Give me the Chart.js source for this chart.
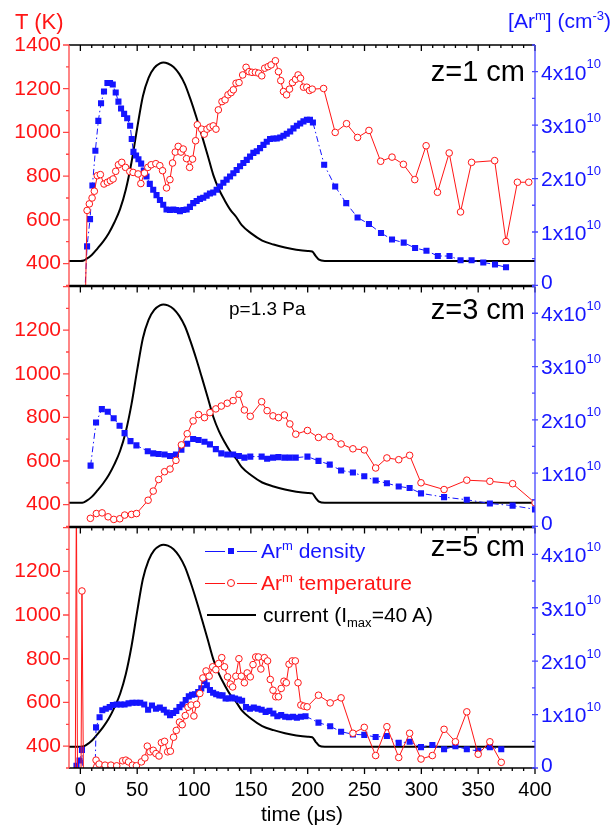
<!DOCTYPE html>
<html>
<head>
<meta charset="utf-8">
<script src="https://cdn.jsdelivr.net/npm/chart.js@4.4.1/dist/chart.umd.min.js"></script>
<style>
  body { margin: 0; background: #fff; width: 613px; height: 834px; position: relative; overflow: hidden;
         font-family: "Liberation Sans", Arial, sans-serif; }
  canvas { position: absolute; left: 0; }
  .txt { position: absolute; line-height: 1; white-space: nowrap; }
  .txt sup, .txt sub { position: relative; font-size: 0.62em; line-height: 0; vertical-align: baseline; }
  .txt sup { top: -0.62em; }
  .txt sub { top: 0.35em; }
  .seg { position: absolute; height: 0; }
</style>
</head>
<body>
<canvas id="p1" width="613" height="306" style="top:0px"></canvas>
<canvas id="p2" width="613" height="281" style="top:266px"></canvas>
<canvas id="p3" width="613" height="327" style="top:507px"></canvas>

<div class="txt" style="left:15px;top:11px;font-size:22px;color:#ff1515">T (K)</div>
<div class="txt" style="right:2px;top:10px;font-size:21px;color:#1515ff">[Ar<sup>m</sup>] (cm<sup>-3</sup>)</div>
<div class="txt" style="right:88px;top:57px;font-size:29px;color:#000">z=1 cm</div>
<div class="txt" style="right:88px;top:295px;font-size:29px;color:#000">z=3 cm</div>
<div class="txt" style="right:88px;top:532px;font-size:29px;color:#000">z=5 cm</div>
<div class="txt" style="left:229px;top:299px;font-size:19px;color:#000">p=1.3 Pa</div>

<!-- legend -->
<div class="seg" style="left:205px;top:551px;width:20px;border-top:1px solid #1515ff"></div>
<div class="seg" style="left:237px;top:551px;width:20px;border-top:1px solid #1515ff"></div>
<div style="position:absolute;left:228px;top:548px;width:6px;height:6px;background:#1515ff"></div>
<div class="txt" style="left:261px;top:540px;font-size:21px;color:#1515ff">Ar<sup>m</sup> density</div>
<div class="seg" style="left:205px;top:583px;width:20px;border-top:1px solid #ff1515"></div>
<div class="seg" style="left:237px;top:583px;width:20px;border-top:1px solid #ff1515"></div>
<div style="position:absolute;left:227px;top:579px;width:6px;height:6px;border:1px solid #ff1515;border-radius:50%;background:#fff"></div>
<div class="txt" style="left:261px;top:572px;font-size:21px;color:#ff1515">Ar<sup>m</sup> temperature</div>
<div class="seg" style="left:207px;top:614px;width:49px;border-top:2px solid #000"></div>
<div class="txt" style="left:263px;top:604px;font-size:21px;color:#000">current (I<sub>max</sub>=40 A)</div>

<script>
// ---- data (time in µs, temperature in K, density in 1e10 cm^-3, current in A) ----
const timeTicks = [0, 50, 100, 150, 200, 250, 300, 350, 400];
const tempTicksTop = [400, 600, 800, 1000, 1200, 1400];
const tempTicks = [400, 600, 800, 1000, 1200];
const densTicks = [0, 1, 2, 3, 4];

const curTime = [-10, 0, 3, 5, 10, 15, 20, 25, 30, 35, 40, 45, 50, 55, 60, 65, 70, 73, 77, 82, 87, 92, 97,
  102, 107, 112, 117, 122, 127, 132, 137, 142, 150, 160, 170, 180, 190, 200, 204, 207, 210, 215, 400];
const current = [0, 0, 0.1, 0.35, 1.2, 2.5, 3.9, 5.6, 7.8, 10.5, 14.4, 19.9, 26.8, 33.2, 36.9, 38.9, 39.8, 40.0, 39.8, 39.1, 37.7, 35.6, 32.5,
  29.0, 25.2, 21.3, 17.3, 14.4, 12.2, 10.3, 8.9, 7.2, 5.6, 4.1, 3.3, 2.7, 2.25, 2.0, 1.9, 1.0, 0.25, 0, 0];

const densZ1 = [[3.8,-0.2],[5.9,0.73],[8.5,1.24],[10.6,1.87],[13.2,2.52],[15.8,3.08],[18.2,3.41],[20.8,3.63],
  [23.8,3.79],[26.1,3.79],[28.5,3.76],[31.1,3.61],[33.5,3.44],[35.8,3.31],[38.5,3.21],[41.2,3.13],[43.8,2.99],
  [45.2,2.74],[46.7,2.5],[49,2.43],[51.1,2.36],[53.5,2.28],[55.8,2.15],[58.2,2.04],[61.1,1.9],[64.1,1.79],[67,1.69],
  [70,1.6],[72.9,1.51],[75.8,1.42],[78.8,1.41],[81.7,1.42],[84.6,1.41],[87.6,1.39],[90.5,1.41],[93.5,1.42],
  [96.4,1.47],[99.3,1.54],[102.3,1.58],[105.2,1.62],[108.1,1.64],[111.1,1.68],[114,1.72],[116.9,1.74],[119.9,1.79],
  [122.8,1.85],[125.8,1.92],[128.7,1.98],[131.7,2.04],[134.6,2.1],[137.5,2.16],[140.5,2.23],[143.4,2.29],
  [146.4,2.35],[149.3,2.41],[152.2,2.48],[155.2,2.51],[158.1,2.57],[161.1,2.63],[164,2.69],[166.9,2.74],
  [169.9,2.75],[172.8,2.75],[175.8,2.77],[178.7,2.8],[181.6,2.84],[184.6,2.88],[187.5,2.94],[190.5,2.99],
  [193.4,3.03],[196.3,3.07],[199.3,3.1],[202,3.1],[204.6,3.05],[214.5,2.26],[224.2,1.85],[233.9,1.54],
  [243.9,1.27],[253.9,1.15],[264.5,0.98],[274.2,0.86],[284.5,0.8],[294.5,0.7],[304.5,0.65],[314.5,0.55],
  [324.8,0.55],[334.5,0.47],[344.2,0.47],[354.5,0.43],[364.8,0.39],[374.5,0.34]];
const tempZ1 = [[4.5,250],[5.9,643],[7.9,673],[10.3,700],[12.3,731],[14.9,802],[17.6,807],[20.8,764],[23.8,772],
  [26.4,779],[28.8,787],[31.1,822],[33.5,852],[36.4,863],[39.7,840],[43.5,821],[46.4,817],[50.8,810],[53.2,766],
  [56.4,814],[59.4,840],[62.3,852],[66.4,857],[69.9,848],[72.3,825],[75.8,746],[78.8,784],[81.1,860],[83.5,910],
  [86.1,936],[88.5,910],[90.5,924],[93.4,880],[96.1,840],[98.7,878],[101.4,962],[102.9,1035],[106.7,1015],
  [109,992],[111.4,1015],[114,1024],[116.9,1030],[119.3,1015],[121.4,1103],[124.6,1141],[127.3,1149],
  [129.9,1172],[132.6,1182],[134.6,1195],[137,1225],[139.6,1228],[142.8,1263],[145.8,1298],[148.4,1278],
  [151,1275],[154,1275],[156.9,1271],[159.6,1259],[162.2,1294],[165.2,1301],[167.8,1309],[171.6,1328],
  [174.3,1278],[176.3,1237],[178.7,1187],[181.4,1172],[184,1198],[186.6,1228],[189.3,1243],[191.6,1263],
  [193.7,1248],[196.3,1207],[199.2,1207],[201.6,1192],[204,1198],[214,1201],[224.2,1000],[234.2,1040],
  [243.9,977],[253.9,1009],[264.2,868],[274.2,887],[284.2,854],[294.2,784],[304.2,939],[314.2,726],
  [324.5,906],[334.5,636],[344.2,863],[364.5,871],[374.5,501],[384.5,772],[394.5,772]];

const densZ3 = [[9,1.14],[13.8,1.95],[18.9,2.2],[24.1,2.15],[29.3,2.03],[34.5,1.89],[38.9,1.75],[44.1,1.6],
  [49.3,1.52],[59.3,1.41],[64.1,1.37],[68.9,1.36],[74.1,1.35],[78.9,1.32],[84.1,1.35],[88.9,1.44],[94,1.55],
  [99.2,1.64],[104,1.62],[109.2,1.59],[114,1.54],[119.2,1.45],[124,1.37],[129.2,1.35],[134.4,1.35],[139.5,1.32],
  [144.3,1.29],[149.5,1.31],[159.5,1.31],[164.3,1.27],[169.5,1.29],[174.3,1.3],[179.5,1.29],[184.3,1.29],
  [189.5,1.29],[199.8,1.31],[209.5,1.23],[219.4,1.16],[229.4,1.05],[239.8,1.01],[249.8,0.94],[259.8,0.86],
  [269.7,0.81],[280.1,0.75],[289.7,0.72],[299.7,0.62],[320,0.55],[340,0.5],[360.3,0.43],[380.3,0.39],[400,0.32]];
const tempZ3 = [[8.8,337],[14.1,359],[19.1,362],[24.4,344],[29.4,332],[34.7,335],[39,352],[45,355],[49.4,359],
  [59.6,420],[64.1,462],[68.9,515],[74.1,551],[78.9,563],[84.1,603],[88.9,674],[94,725],[99.2,784],[104,813],
  [109.2,799],[114,822],[119.2,839],[124,852],[129.2,865],[134.4,877],[139.5,906],[144.3,834],[149.5,805],
  [159.5,872],[164.3,831],[169.5,807],[174.3,799],[179.5,811],[184.3,770],[189.5,723],[199.8,740],[209.5,708],
  [219.4,712],[229.4,678],[239.8,656],[249.8,651],[259.8,568],[269.7,614],[280.1,606],[289.7,626],[299.7,500],
  [320,469],[340,512],[360.3,507],[380.3,496],[400,408]];

const densZ5 = [[-3.4,0.04],[-0.7,0.14],[1.4,0.34],[2.5,-0.5],[12.5,-0.5],[13.8,0.76],[16.9,0.95],[19.3,1.08],
  [22.4,1.11],[25.8,1.14],[28.6,1.18],[32,1.19],[35.5,1.19],[38.9,1.19],[42.4,1.21],[45.8,1.22],[49.3,1.22],
  [52.7,1.22],[56.2,1.19],[59.6,1.09],[63,1.17],[66.5,1.11],[69.9,1.13],[73.4,1.09],[76.1,1.04],[78.9,0.99],
  [81.6,1.03],[84.4,1.07],[87.2,1.14],[89.9,1.19],[92.7,1.27],[95.4,1.34],[98.2,1.37],[100.9,1.38],[103.7,1.42],
  [106.4,1.49],[109.2,1.63],[111.3,1.55],[114,1.46],[116.8,1.41],[119.5,1.38],[122.3,1.36],[125.1,1.36],
  [127.8,1.3],[130.6,1.3],[133.3,1.32],[136.1,1.3],[139.5,1.28],[142.3,1.26],[145.7,1.14],[149.2,1.11],
  [152.6,1.13],[156.1,1.11],[159.5,1.09],[163,1.05],[166.4,1.07],[169.8,1.02],[173.3,0.97],[176.7,0.99],
  [180.2,0.96],[183.6,0.95],[187.1,0.96],[190.5,0.94],[194,0.96],[198.1,0.97],[209.5,0.85],[219.8,0.78],
  [229.4,0.68],[239.8,0.63],[249.8,0.62],[259.8,0.58],[269.7,0.6],[280.1,0.47],[289.7,0.49],[299.7,0.39],
  [309.7,0.43],[320,0.35],[330,0.41],[340,0.35],[350,0.32],[360.3,0.39],[370.3,0.35]];
const tempZ5 = [[-4.5,200],[-3.5,1600],[-2.5,200],[0.5,200],[1.4,1110],[2.8,200],[13.8,336],[16.5,318],
  [21.7,313],[26.9,313],[32,310],[37.2,333],[40,336],[42.4,328],[45.8,313],[49.3,310],[53.7,328],[56.8,346],
  [58.9,400],[61.3,374],[64.1,381],[66.5,366],[69.2,355],[71.3,416],[74.1,422],[76.8,374],[79.2,377],[82,441],
  [84.4,472],[87.2,510],[89.6,498],[92.3,540],[94.7,578],[97.5,588],[99.9,538],[102.3,591],[105.1,641],
  [107.8,712],[110.6,744],[113.3,720],[116.4,763],[119.2,750],[121.6,778],[124.4,805],[126.8,763],[129.5,717],
  [131.9,684],[134,671],[136.8,720],[139.5,800],[141.6,720],[144.3,690],[146.8,735],[149.5,717],[151.9,773],
  [154.3,808],[156.7,808],[158.8,753],[161.9,805],[164.7,790],[167.1,705],[169.5,656],[171.9,626],[174.3,626],
  [176.7,664],[179.1,697],[181.2,690],[183.6,775],[186.4,790],[189.1,790],[191.5,690],[194,588],[196.7,583],
  [199.5,580],[209.5,633],[219.8,598],[229.4,621],[239.8,459],[249.8,486],[259.8,357],[269.7,489],[280.1,348],
  [289.7,459],[299.7,341],[309.7,357],[320,477],[330,420],[340,557],[350,363],[360.3,420],[370.3,326]];

// ---- drawing ----
const RED = '#ff1515', BLUE = '#1515ff';
const FONT = '"Liberation Sans", Arial, sans-serif';
Chart.defaults.font.family = FONT;

const toXY = pairs => pairs.map(([x, y]) => ({ x, y }));

// frame, inner/outer tick marks and the right-hand labels with superscripts
const frame = {
  id: 'frame',
  afterDatasetsDraw(chart, args, opts) {
    const { ctx, chartArea: a, scales } = chart;
    const x = scales.x, yT = scales.yT, yD = scales.yD;
    ctx.save();
    ctx.lineWidth = 1.3;

    ctx.strokeStyle = '#000';
    ctx.beginPath();
    for (let t = 0; t <= 400; t += 10) {
      const px = x.getPixelForValue(t);
      const len = t % 50 === 0 ? 6 : 3;
      ctx.moveTo(px, a.top); ctx.lineTo(px, a.top + len);
      if (opts.bottomTicks) { ctx.moveTo(px, a.bottom); ctx.lineTo(px, a.bottom + len); }
    }
    ctx.moveTo(a.left, a.top); ctx.lineTo(a.right, a.top);
    ctx.moveTo(a.left, a.bottom); ctx.lineTo(a.right, a.bottom);
    ctx.stroke();

    ctx.strokeStyle = '#ff4545';
    ctx.beginPath();
    for (let v = 300; v <= 1400; v += 100) {
      const py = yT.getPixelForValue(v);
      ctx.moveTo(a.left, py); ctx.lineTo(a.left - (v % 200 === 0 ? 6 : 3), py);
    }
    ctx.moveTo(a.left, a.top); ctx.lineTo(a.left, a.bottom);
    ctx.stroke();

    ctx.strokeStyle = '#4545ff';
    ctx.beginPath();
    for (let v = 0; v <= 4.5; v += 0.5) {
      const py = yD.getPixelForValue(v);
      if (Number.isInteger(v)) { ctx.moveTo(a.right - 3, py); ctx.lineTo(a.right + 3, py); }
      else { ctx.moveTo(a.right - 3, py); ctx.lineTo(a.right, py); }
    }
    ctx.moveTo(a.right, a.top); ctx.lineTo(a.right, a.bottom);
    ctx.stroke();

    ctx.fillStyle = BLUE;
    ctx.textAlign = 'left';
    ctx.textBaseline = 'middle';
    for (const v of densTicks) {
      const py = yD.getPixelForValue(v);
      ctx.font = '21px ' + FONT;
      if (v === 0) { ctx.fillText('0', a.right + 6, py - 2); continue; }
      const base = v + 'x10';
      ctx.fillText(base, a.right + 6, py + 2);
      const w = ctx.measureText(base).width;
      ctx.font = '13px ' + FONT;
      ctx.fillText('10', a.right + 6 + w, py - 7);
    }
    ctx.restore();
  }
};

function panel(id, dens, temp, tLabels, curMin, curMax, padTop, padBottom, showX) {
  return new Chart(document.getElementById(id), {
    type: 'line',
    data: {
      datasets: [
        { label: 'temperature', data: toXY(temp), yAxisID: 'yT', order: 0,
          borderColor: RED, borderWidth: 1, pointStyle: 'circle', pointRadius: 3.3,
          pointBorderWidth: 1, pointBorderColor: RED, pointBackgroundColor: '#fff' },
        { label: 'density', data: toXY(dens), yAxisID: 'yD', order: 1,
          borderColor: BLUE, borderWidth: 1, borderDash: [6, 3, 1.5, 3], pointStyle: 'rect',
          pointRadius: 4.3, pointBorderWidth: 0, pointBackgroundColor: BLUE },
        { label: 'current', data: curTime.map((t, i) => ({ x: t, y: current[i] })), yAxisID: 'yI', order: 2,
          borderColor: '#000', borderWidth: 2, pointRadius: 0, cubicInterpolationMode: 'monotone' }
      ]
    },
    options: {
      responsive: false,
      animation: false,
      events: [],
      layout: { padding: { top: padTop, bottom: padBottom, left: 0, right: 0 } },
      plugins: { legend: { display: false }, tooltip: { enabled: false }, frame: { bottomTicks: showX } },
      scales: {
        x: {
          type: 'linear', min: -10, max: 400, display: showX,
          afterBuildTicks: s => { s.ticks = timeTicks.map(v => ({ value: v })); },
          afterFit: s => { s.height = showX ? 66 : 0; },
          grid: { display: false, drawTicks: false }, border: { display: false },
          ticks: { color: '#000', font: { size: 20 }, padding: 10, maxRotation: 0, autoSkip: false,
                   callback: v => String(v) },
          title: { display: true, text: 'time (\u03bcs)', color: '#000', font: { size: 21 }, padding: { top: 0, bottom: 6 } }
        },
        yT: {
          position: 'left', min: 300, max: 1400,
          afterBuildTicks: s => { s.ticks = tLabels.map(v => ({ value: v })); },
          afterFit: s => { s.width = 69; },
          grid: { display: false, drawTicks: false }, border: { display: false },
          ticks: { color: RED, font: { size: 21 }, padding: 8, callback: v => String(v) }
        },
        yD: {
          position: 'right', min: 0, max: 4.5,
          afterFit: s => { s.width = 78; },
          grid: { display: false, drawTicks: false }, border: { display: false },
          ticks: { display: false }
        },
        yI: { display: false, min: curMin, max: curMax }
      }
    },
    plugins: [frame]
  });
}

panel('p1', densZ1, tempZ1, tempTicksTop, -4.93, 43.52, 45, 20, false);
panel('p2', densZ3, tempZ3, tempTicks, -4.75, 43.6, 20, 20, false);
panel('p3', densZ5, tempZ5, tempTicks, -4.19, 43.37, 20, 0, true);
</script>
</body>
</html>
